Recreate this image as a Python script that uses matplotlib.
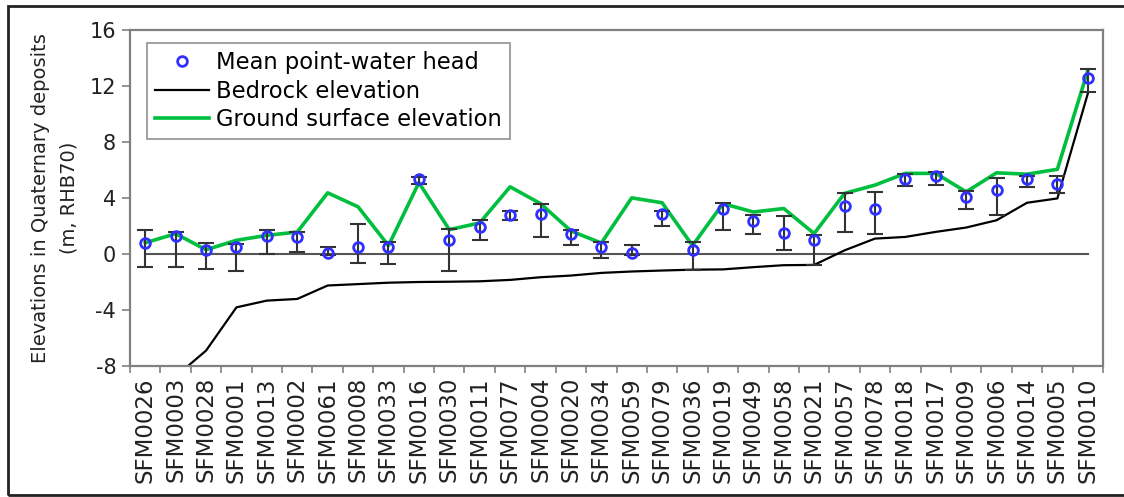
import matplotlib
import matplotlib.pyplot as plt
from matplotlib.patches import Rectangle
import numpy as np

matplotlib.use("Agg")
plt.rcParams["axes.unicode_minus"] = False

# Monitoring wells, sorted by bedrock elevation
stations = [
    "SFM0026", "SFM0003", "SFM0028", "SFM0001", "SFM0013", "SFM0002", "SFM0061", "SFM0008",
    "SFM0033", "SFM0016", "SFM0030", "SFM0011", "SFM0077", "SFM0004", "SFM0020", "SFM0034",
    "SFM0059", "SFM0079", "SFM0036", "SFM0019", "SFM0049", "SFM0058", "SFM0021", "SFM0057",
    "SFM0078", "SFM0018", "SFM0017", "SFM0009", "SFM0006", "SFM0014", "SFM0005", "SFM0010",
]

# Point-water head (m, RHB70): mean, max and min
head_mean = [0.76, 1.26, 0.26, 0.50, 1.26, 1.20, 0.05, 0.50, 0.50, 5.33, 0.98, 1.93, 2.82, 2.89, 1.46, 0.50,
             0.10, 2.89, 0.30, 3.20, 2.34, 1.53, 0.98, 3.42, 3.25, 5.33, 5.60, 4.09, 4.57, 5.33, 4.97, 12.58]
head_max = [1.70, 1.57, 0.81, 0.74, 1.69, 1.57, 0.50, 2.12, 0.85, 5.50, 1.82, 2.46, 3.08, 3.56, 1.74, 0.85,
            0.67, 3.10, 0.85, 3.66, 2.77, 2.70, 1.38, 4.37, 4.44, 5.69, 5.88, 4.49, 5.40, 5.60, 5.57, 13.25]
head_min = [-0.96, -0.94, -1.06, -1.22, 0.02, 0.14, -0.10, -0.65, -0.70, 5.00, -1.22, 1.03, 2.41, 1.22, 0.67, -0.27,
            -0.10, 1.98, -1.13, 1.69, 1.46, 0.26, -0.82, 1.57, 1.46, 4.87, 4.92, 3.25, 2.77, 4.80, 4.33, 11.55]

ground = [0.80, 1.45, 0.30, 0.98, 1.33, 1.57, 4.37, 3.37, 0.60, 5.10, 1.74, 2.22, 4.80, 3.60, 1.65, 0.78,
          4.01, 3.66, 0.60, 3.60, 3.00, 3.25, 1.46, 4.33, 4.92, 5.76, 5.76, 4.44, 5.80, 5.70, 6.05, 13.10]

bedrock = [-10.5, -8.75, -6.90, -3.81, -3.33, -3.21, -2.25, -2.15, -2.05, -2.00, -1.98, -1.95, -1.85, -1.66, -1.54, -1.35,
           -1.25, -1.18, -1.12, -1.10, -0.94, -0.80, -0.78, 0.26, 1.10, 1.22, 1.58, 1.89, 2.41, 3.66, 3.97, 11.45]

x = np.arange(len(stations))
mean = np.array(head_mean)
yerr = np.vstack([mean - np.array(head_min), np.array(head_max) - mean])

fig = plt.figure(figsize=(11.24, 4.97), dpi=100)
ax = fig.add_axes([0.1157, 0.2636, 0.8656, 0.676])

frame_grey = "#808080"
ax.plot(x, np.zeros(len(x)), color="#555555", linewidth=1.5, zorder=1)
ax.plot(x, bedrock, color="black", linewidth=1.6, label="Bedrock elevation", zorder=2)
ax.plot(x, ground, color="#00bf3f", linewidth=2.6, label="Ground surface elevation", zorder=3)
ax.errorbar(x, mean, yerr=yerr, fmt="none", ecolor="#333333", elinewidth=1.5,
            capsize=6, capthick=1.5, zorder=4)
ax.plot(x, mean, linestyle="none", marker="o", markersize=7, markerfacecolor="none",
        markeredgecolor="#2f2fff", markeredgewidth=2.0, label="Mean point-water head", zorder=5)

ax.set_xlim(-0.5, len(x) - 0.5)
ax.set_ylim(-8, 16)
ax.set_yticks(np.arange(-8, 17, 4))
ax.set_xticks(x)
ax.set_xticklabels(stations, rotation=90, fontsize=16.5, color="#222222")
ax.set_xticks(np.arange(-0.5, len(x), 1.0), minor=True)
ax.tick_params(axis="x", which="major", length=0, pad=8)
ax.tick_params(axis="x", which="minor", length=5, color=frame_grey, width=1.2)
ax.tick_params(axis="y", length=6, color=frame_grey, width=1.2, labelsize=15,
               labelcolor="#222222", pad=4)
for side in ax.spines.values():
    side.set_color(frame_grey)
    side.set_linewidth(1.6)

ax.set_ylabel("Elevations in Quaternary deposits\n(m, RHB70)", fontsize=14,
              color="#222222", labelpad=8, linespacing=1.6)

handles, labels = ax.get_legend_handles_labels()
order = [2, 0, 1]
leg = ax.legend([handles[i] for i in order], [labels[i] for i in order],
                loc="upper left", bbox_to_anchor=(0.0175, 0.961), borderaxespad=0,
                fontsize=16.3, frameon=True, fancybox=False, edgecolor=frame_grey,
                handlelength=2.4, handletextpad=0.3, labelspacing=0.25,
                borderpad=0.35, numpoints=1)
leg.get_frame().set_linewidth(1.3)

# outer figure border
fig.patches.append(Rectangle((8 / 1124, 2 / 497), 1.2, 489 / 497, transform=fig.transFigure,
                             fill=False, edgecolor="#222222", linewidth=2))

fig.savefig("out.png", dpi=100)
plt.close(fig)
